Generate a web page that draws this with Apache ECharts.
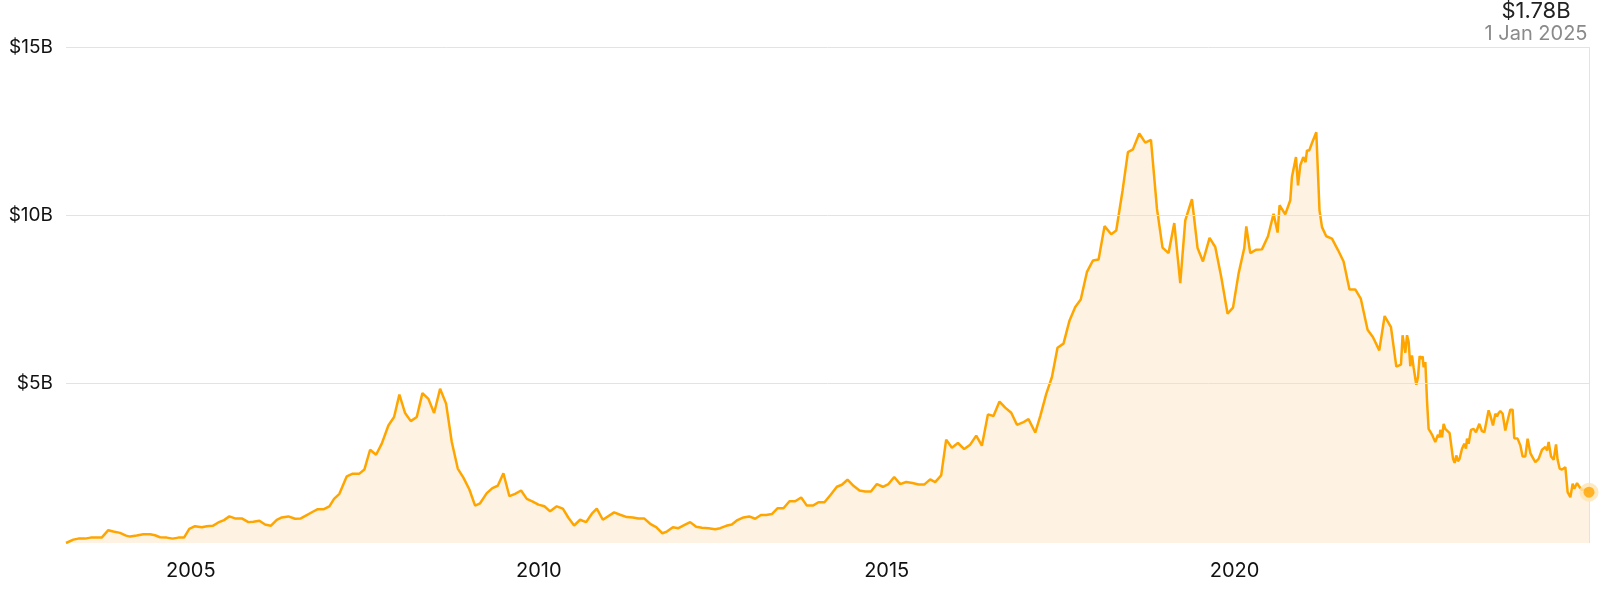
<!DOCTYPE html>
<html><head><meta charset="utf-8">
<script src="https://cdn.jsdelivr.net/npm/echarts@6/dist/echarts.min.js"></script>
<style>html,body{margin:0;padding:0;background:#fff}#c{width:1617px;height:595px}</style>
</head><body><div id="c"></div>
<script>
// Decimal-year positions of the points (categories)
const years = [
2003.206,2003.311,2003.383,2003.479,2003.561,2003.719,2003.814,2003.886,2003.982,2004.069,
2004.126,2004.222,2004.317,2004.414,2004.485,2004.557,2004.654,2004.740,2004.820,2004.902,
2004.978,2005.060,2005.157,2005.229,2005.315,2005.395,2005.477,2005.553,2005.635,2005.732,
2005.827,2005.898,2005.985,2006.067,2006.148,2006.235,2006.307,2006.401,2006.498,2006.580,
2006.666,2006.746,2006.818,2006.905,2006.991,2007.058,2007.135,2007.241,2007.327,2007.422,
2007.494,2007.576,2007.662,2007.744,2007.839,2007.921,2007.997,2008.079,2008.161,2008.247,
2008.328,2008.414,2008.496,2008.582,2008.668,2008.750,2008.836,2008.917,2009.003,2009.085,
2009.157,2009.253,2009.334,2009.411,2009.492,2009.578,2009.660,2009.746,2009.828,2009.914,
2009.995,2010.081,2010.163,2010.259,2010.346,2010.426,2010.508,2010.594,2010.681,2010.763,
2010.834,2010.921,2011.083,2011.169,2011.266,2011.352,2011.432,2011.514,2011.601,2011.687,
2011.777,2011.841,2011.927,2012.007,2012.089,2012.176,2012.262,2012.344,2012.439,2012.535,
2012.607,2012.693,2012.775,2012.855,2012.942,2013.024,2013.110,2013.192,2013.268,2013.350,
2013.430,2013.517,2013.603,2013.685,2013.771,2013.853,2013.939,2014.020,2014.106,2014.198,
2014.284,2014.356,2014.437,2014.523,2014.609,2014.691,2014.773,2014.859,2014.946,2015.026,
2015.108,2015.194,2015.280,2015.371,2015.457,2015.543,2015.625,2015.697,2015.783,2015.855,
2015.937,2016.024,2016.114,2016.200,2016.287,2016.368,2016.455,2016.535,2016.621,2016.703,
2016.790,2016.872,2016.958,2017.038,2017.135,2017.207,2017.293,2017.375,2017.455,2017.541,
2017.628,2017.710,2017.789,2017.878,2017.964,2018.045,2018.131,2018.227,2018.299,2018.390,
2018.467,2018.539,2018.630,2018.716,2018.798,2018.884,2018.964,2019.051,2019.133,2019.219,
2019.291,2019.387,2019.468,2019.545,2019.640,2019.722,2019.808,2019.899,2019.977,2020.057,
2020.139,2020.168,2020.225,2020.311,2020.393,2020.480,2020.560,2020.618,2020.646,2020.728,
2020.800,2020.824,2020.882,2020.911,2020.944,2020.987,2021.020,2021.040,2021.073,2021.112,
2021.174,2021.220,2021.256,2021.317,2021.399,2021.486,2021.566,2021.651,2021.734,2021.813,
2021.911,2021.989,2022.079,2022.156,2022.247,2022.324,2022.391,2022.414,2022.439,2022.453,
2022.478,2022.501,2022.525,2022.549,2022.572,2022.587,2022.611,2022.636,2022.659,2022.683,
2022.702,2022.716,2022.741,2022.765,2022.788,2022.812,2022.837,2022.860,2022.884,2022.909,
2022.923,2022.946,2022.956,2022.981,2023.004,2023.028,2023.053,2023.090,2023.139,2023.162,
2023.186,2023.210,2023.233,2023.268,2023.301,2023.325,2023.340,2023.363,2023.397,2023.435,
2023.469,2023.517,2023.555,2023.589,2023.617,2023.650,2023.675,2023.713,2023.747,2023.771,
2023.794,2023.819,2023.852,2023.890,2023.923,2023.962,2023.995,2024.019,2024.067,2024.106,
2024.139,2024.178,2024.211,2024.250,2024.289,2024.322,2024.369,2024.418,2024.466,2024.490,
2024.513,2024.548,2024.585,2024.619,2024.642,2024.671,2024.705,2024.753,2024.786,2024.825,
2024.858,2024.882,2024.921,2024.958,2024.993,2025.040,2025.093
];
// Values in billions of dollars
const values = [
0.27,0.37,0.40,0.40,0.43,0.43,0.65,0.61,0.57,0.49,
0.46,0.49,0.53,0.53,0.50,0.44,0.43,0.40,0.43,0.43,
0.69,0.77,0.74,0.77,0.78,0.88,0.95,1.06,1.00,1.00,
0.89,0.90,0.93,0.82,0.78,0.96,1.03,1.06,0.99,1.00,
1.10,1.19,1.27,1.27,1.36,1.58,1.73,2.25,2.33,2.33,
2.45,3.04,2.89,3.22,3.76,4.01,4.68,4.13,3.89,4.01,
4.72,4.55,4.13,4.85,4.41,3.27,2.48,2.21,1.86,1.38,
1.45,1.75,1.90,1.97,2.34,1.66,1.73,1.83,1.58,1.50,
1.41,1.36,1.21,1.36,1.29,1.02,0.79,0.96,0.89,1.14,
1.29,0.96,1.18,1.11,1.04,1.03,1.00,1.00,0.84,0.74,
0.56,0.61,0.74,0.71,0.80,0.89,0.75,0.72,0.71,0.68,
0.71,0.78,0.82,0.95,1.03,1.06,0.99,1.10,1.10,1.13,
1.30,1.30,1.51,1.51,1.62,1.38,1.38,1.48,1.48,1.71,
1.94,2.00,2.15,1.97,1.83,1.80,1.80,2.02,1.94,2.02,
2.23,2.02,2.08,2.05,2.01,2.01,2.16,2.08,2.28,3.34,
3.10,3.24,3.06,3.19,3.46,3.16,4.09,4.04,4.47,4.29,
4.14,3.78,3.85,3.95,3.55,4.04,4.70,5.20,6.07,6.19,
6.88,7.28,7.50,8.32,8.66,8.69,9.68,9.44,9.55,10.74,
11.88,11.96,12.43,12.16,12.24,10.20,9.04,8.88,9.77,7.99,
9.85,10.48,9.03,8.63,9.33,9.06,8.17,7.08,7.26,8.27,
9.03,9.67,8.88,8.98,8.99,9.38,10.05,9.49,10.30,10.03,
10.45,11.14,11.73,10.89,11.49,11.73,11.58,11.93,11.93,12.15,
12.47,10.15,9.65,9.38,9.31,8.97,8.63,7.80,7.80,7.53,
6.60,6.38,5.99,7.01,6.68,5.51,5.57,6.44,6.49,5.92,
6.44,6.24,5.52,5.84,5.49,5.54,4.97,5.20,5.82,5.74,
5.81,5.49,5.64,4.50,3.66,3.58,3.49,3.38,3.27,3.27,
3.49,3.41,3.63,3.41,3.81,3.66,3.63,3.53,2.77,2.65,
2.87,2.70,2.77,3.07,3.22,3.07,3.37,3.22,3.63,3.66,
3.56,3.81,3.59,3.56,3.59,4.21,4.06,3.76,4.11,4.03,
4.13,4.19,4.11,3.61,3.91,4.23,4.23,3.38,3.37,3.17,
2.84,2.84,3.37,2.94,2.79,2.67,2.77,3.04,3.12,3.02,
3.27,2.84,2.74,3.20,2.74,2.48,2.45,2.52,1.78,1.63,
2.03,1.88,2.05,1.93,1.85,1.85,1.78
];
const xTicks = [2005, 2010, 2015, 2020];
const yTicks = [5, 10, 15];
const lastValueText = '$1.78B';
const lastDateText = '1 Jan 2025';

const data = years.map((y, i) => [y, values[i]]);
const last = data[data.length - 1];
const FONT = 'Inter, "Noto Sans", "Liberation Sans", sans-serif';
const ORANGE = '#FFA500';

const chart = echarts.init(document.getElementById('c'), null, { renderer: 'canvas' });
chart.setOption({
  animation: false,
  grid: { left: 66, right: 28, top: 47, bottom: 52, containLabel: false },
  xAxis: {
    type: 'value', min: years[0], max: years[years.length - 1],
    axisLine: { show: false }, axisTick: { show: false, customValues: xTicks }, splitLine: { show: false },
    axisLabel: { customValues: xTicks, formatter: v => String(Math.round(v)), color: '#111', fontSize: 20, margin: 18, fontFamily: FONT }
  },
  yAxis: {
    type: 'value', min: 0.27, max: 15,
    axisLine: { show: false }, axisTick: { show: false, customValues: yTicks }, splitLine: { show: false },
    axisLabel: { customValues: yTicks, formatter: v => '$' + Math.round(v) + 'B', color: '#111', fontSize: 19, margin: 13, fontFamily: FONT }
  },
  graphic: [
    { type: 'text', x: 1536, y: 0, style: { text: lastValueText, align: 'center', verticalAlign: 'top', fontSize: 22, fill: '#222', fontFamily: FONT } },
    { type: 'text', x: 1536, y: 24, style: { text: lastDateText, align: 'center', verticalAlign: 'top', fontSize: 20, fill: '#8a8a8a', fontFamily: FONT } }
  ],
  series: [
    {
      type: 'line', data: data, z: 1, silent: true, symbol: 'none',
      lineStyle: { opacity: 0 },
      markLine: {
        silent: true, symbol: 'none', label: { show: false }, animation: false,
        lineStyle: { color: '#e3e3e3', width: 1, type: 'solid' },
        data: yTicks.map(v => ({ yAxis: v })).concat([{ xAxis: last[0] }])
      }
    },
    {
      type: 'line', data: data, z: 2, symbol: 'none',
      lineStyle: { color: ORANGE, width: 2.5 },
      areaStyle: { color: '#FEF3E2', opacity: 1 }
    },
    {
      type: 'scatter', data: [last], zlevel: 1, z: 3, symbolSize: 19, clip: false, silent: true,
      itemStyle: { color: '#FFE3B0' }
    },
    {
      type: 'scatter', data: [last], zlevel: 1, z: 4, symbolSize: 11, clip: false, silent: true,
      itemStyle: { color: ORANGE }
    }
  ]
});
</script></body></html>
